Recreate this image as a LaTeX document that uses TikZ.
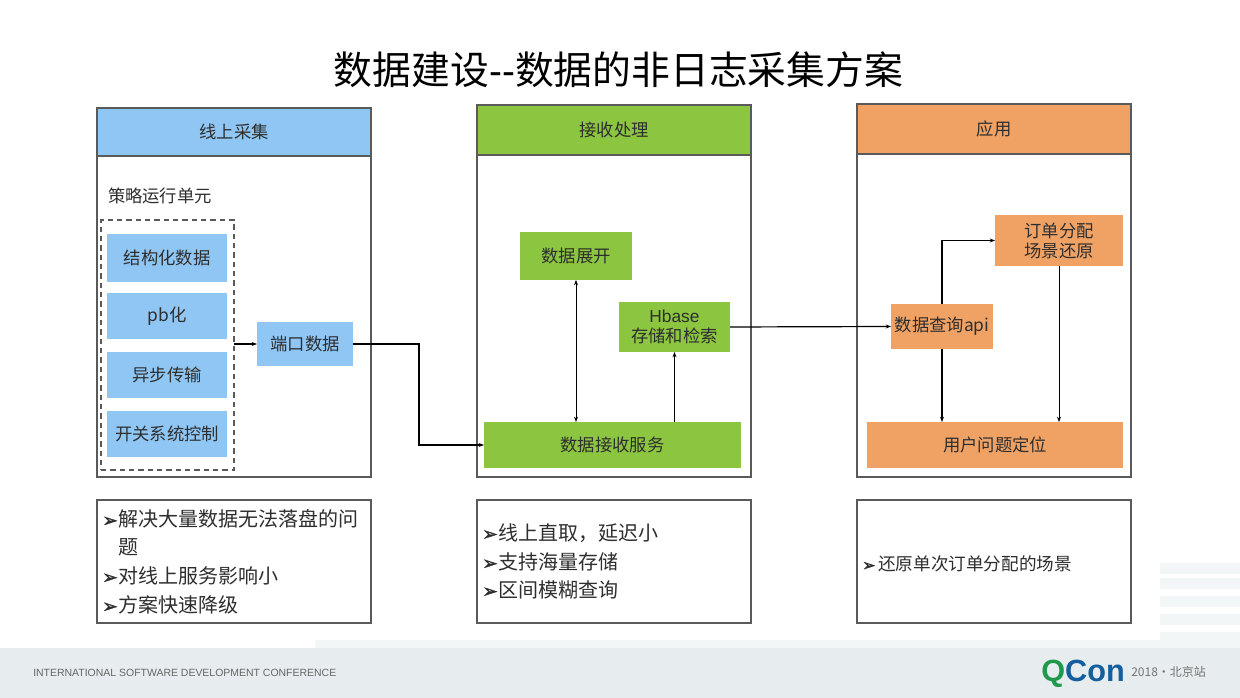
\documentclass[tikz,border=0pt]{standalone}
\usepackage{fontspec}
\setmainfont{Noto Sans CJK SC}
\newfontfamily\latinf{Liberation Sans}
\newfontfamily\symf[FakeBold=1.6]{DejaVu Sans}
\usetikzlibrary{arrows.meta}
\definecolor{bluefill}{HTML}{8FC6F4}
\definecolor{greenfill}{HTML}{8CC640}
\definecolor{orangefill}{HTML}{F0A264}
\definecolor{panelline}{HTML}{5A5A5A}
\definecolor{textc}{HTML}{2E2E2E}
\definecolor{bandc}{HTML}{E7ECEE}
\definecolor{fainta}{HTML}{F3F6F7}
\definecolor{qgreen}{HTML}{1F9A4D}
\definecolor{qblue}{HTML}{155F9E}
\newcommand{\bx}[7][]{%
  \node[boxbase,#1,minimum width={(#5-#3)*0.75pt},minimum height={(#6-#4)*0.75pt}]
    (#2) at ({(#3+#5)/2},{(#4+#6)/2}) {#7};}
\newcommand{\bul}{\makebox[12pt][l]{\symf\fontsize{14}{14}\selectfont ➢}}
\newcommand{\buls}{\makebox[12pt][l]{\symf\fontsize{12}{12}\selectfont ➢}}
\tikzset{
  x=0.75pt,y=-0.75pt,
  boxbase/.style={inner sep=0pt,outer sep=0pt,align=center,text=textc,font=\fontsize{13}{15}\selectfont},
  panel/.style={draw=panelline,line width=0.8pt,fill=white},
  headblue/.style={panel,fill=bluefill},
  headgreen/.style={panel,fill=greenfill},
  headorange/.style={panel,fill=orangefill},
  blueb/.style={fill=bluefill},
  greenb/.style={fill=greenfill},
  orangeb/.style={fill=orangefill},
  unitbox/.style={draw=panelline,line width=0.8pt,dash pattern=on 4pt off 3pt},
  conn/.style={draw=black,line width=0.9pt,-{Stealth[length=4pt,width=3pt]}},
  thinconn/.style={draw=black,line width=0.5pt,-{Stealth[length=4pt,width=3pt]}},
  bigitem/.style={anchor=west,inner sep=0pt,align=left,text=textc,font=\fontsize{15}{21}\selectfont},
  smallitem/.style={bigitem,font=\fontsize{13.2}{16}\selectfont},
}
\begin{document}
\begin{tikzpicture}
\useasboundingbox (0,0) rectangle (1240,698);
\fill[white] (0,0) rectangle (1240,698);
% faint background
\fill[fainta] (315,640) rectangle (1240,648);
\foreach \yy in {563,578,596,614,632} \fill[fainta] (1160,\yy) rectangle (1240,\yy+11);
\fill[bandc] (0,648) rectangle (1240,698);
% title
\node[inner sep=0pt,text=black,font=\fontsize{29.1}{34}\selectfont] (title) at (618.5,70) {数据建设{\latinf -{}-}数据的非日志采集方案};
% panels
\bx[panel]{pa}{97}{108}{371}{477}{}
\bx[panel]{pb}{477}{105}{751}{477}{}
\bx[panel]{pc}{857}{104}{1131}{477}{}
\bx[headblue]{ha}{97}{108}{371}{156}{线上采集}
\bx[headgreen]{hb}{477}{105}{751}{155}{接收处理}
\bx[headorange]{hc}{857}{104}{1131}{154}{应用}
\bx[panel]{na}{97}{500}{371}{623}{}
\bx[panel]{nb}{477}{500}{751}{623}{}
\bx[panel]{nc}{857}{500}{1131}{623}{}
% column 1
\node[boxbase,anchor=west] (unitlabel) at (108,196) {策略运行单元};
\bx[unitbox]{unit}{101}{220}{234}{470}{}
\bx[blueb]{s1}{107}{234}{227}{282}{结构化数据}
\bx[blueb]{s2}{107}{293}{227}{339}{pb化}
\bx[blueb]{s3}{107}{352}{227}{398}{异步传输}
\bx[blueb]{s4}{107}{411}{227}{457}{开关系统控制}
\bx[blueb]{port}{257}{322}{353}{366}{端口数据}
% column 2
\bx[greenb]{expand}{520}{232}{632}{280}{数据展开}
\bx[greenb]{hbase}{619}{302}{730}{352}{\latinf Hbase\\存储和检索}
\bx[greenb]{recv}{484}{422}{741}{468}{数据接收服务}
% column 3
\bx[orangeb]{api}{891}{304}{993}{349}{数据查询api}
\bx[orangeb]{order}{995}{215}{1123}{266}{订单分配\\场景还原}
\bx[orangeb]{user}{867}{422}{1123}{468}{用户问题定位}
% connectors
\coordinate (bend) at (419,345);
\draw[conn] (unit.east |- port.west) -- (port.west);
\draw[conn] (port.east) -- (port.east -| bend) -- (bend |- recv.west) -- (recv.west);
\draw[thinconn,{Stealth[length=4pt,width=3pt]}-{Stealth[length=4pt,width=3pt]}] (expand.south) -- (expand.south |- recv.north);
\draw[conn] (hbase.south |- recv.north) -- (hbase.south);
\draw[conn] (hbase.east) -- (api.west);
\draw[conn] (api.north) |- (order.west);
\draw[conn] (api.south) -- (api.south |- user.north);
\draw[thinconn] (order.south) -- (order.south |- user.north);
% notes
\node[bigitem] (a1) at (102,533) {\bul 解决大量数据无法落盘的问\\\hspace*{12pt}题};
\node[bigitem] (a2) at (102,576) {\bul 对线上服务影响小};
\node[bigitem] (a3) at (102,605) {\bul 方案快速降级};
\node[bigitem] (b1) at (482,533) {\bul 线上直取，延迟小};
\node[bigitem] (b2) at (482,562) {\bul 支持海量存储};
\node[bigitem] (b3) at (482,590) {\bul 区间模糊查询};
\node[smallitem] (c1) at (862,564) {\buls 还原单次订单分配的场景};
% footer
\node[anchor=west,inner sep=0pt,text=black!60,font=\latinf\fontsize{7.85}{9}\selectfont] (conf) at (33,673) {INTERNATIONAL SOFTWARE DEVELOPMENT CONFERENCE};
\node[anchor=west,inner sep=0pt,font=\latinf\bfseries\fontsize{23}{24}\selectfont] (logo) at (1041,674) {\textcolor{qgreen}{Q}\textcolor{qblue}{Con}};
\node[anchor=west,inner sep=0pt,text=black!55,font=\fontsize{9}{12}\selectfont] (city) at (1131,672) {2018·北京站};
\end{tikzpicture}
\end{document}
